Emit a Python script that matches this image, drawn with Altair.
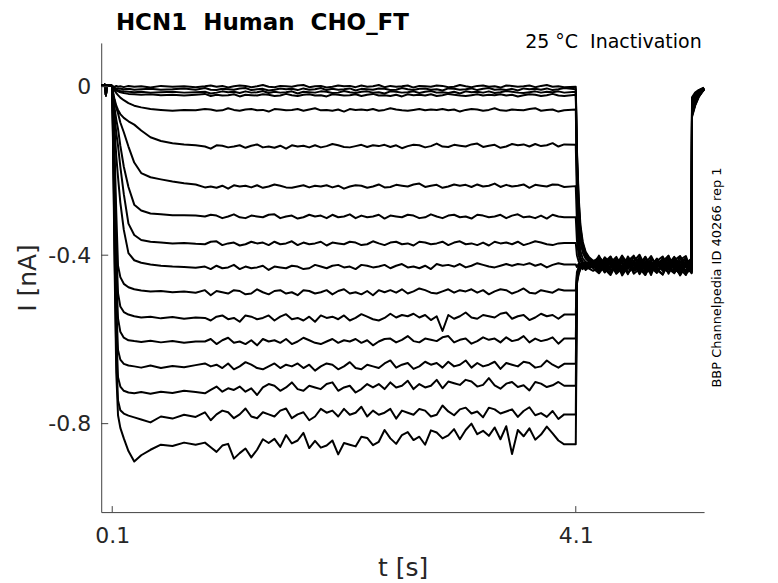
import altair as alt
import pandas as pd

# ---------------- axis ticks / labels ----------------
x_ticks = [0.1, 4.1]
y_ticks = [-0.8, -0.4, 0.0]

# ---------------- time grids (s) ----------------
pre_t = [0.005, 0.020, 0.035, 0.043, 0.046, 0.050, 0.070, 0.090]
pre_I = [0.004, 0.003, 0.005, 0.003, -0.020, 0.004, 0.003, 0.004]

early_t = [0.100, 0.110, 0.120, 0.135, 0.150, 0.170, 0.200, 0.240, 0.290, 0.350,
           0.430, 0.520, 0.620, 0.720, 0.820]

steady_t = [0.90, 0.95, 1.00, 1.05, 1.10, 1.15, 1.20, 1.25, 1.30, 1.35,
            1.40, 1.45, 1.50, 1.55, 1.60, 1.65, 1.70, 1.75, 1.80, 1.85,
            1.90, 1.95, 2.00, 2.05, 2.10, 2.15, 2.20, 2.25, 2.30, 2.35,
            2.40, 2.45, 2.50, 2.55, 2.60, 2.65, 2.70, 2.75, 2.80, 2.85,
            2.90, 2.95, 3.00, 3.05, 3.10, 3.15, 3.20, 3.25, 3.30, 3.35,
            3.40, 3.45, 3.50, 3.55, 3.60, 3.65, 3.70, 3.75, 3.80, 3.85,
            3.90, 3.95, 4.00]

tail_t = [4.100, 4.110, 4.125, 4.140, 4.160, 4.185, 4.215, 4.250,
          4.300, 4.350, 4.400, 4.450, 4.500, 4.550, 4.600, 4.650, 4.700,
          4.750, 4.800, 4.850, 4.900, 4.950, 5.000, 5.050, 5.100]

post_t = [5.103, 5.130, 5.160, 5.190, 5.207]

# ---------------- currents (nA) ----------------
early_T01 = [0.000, 0.001, -0.001, 0.002, 0.000, 0.001, -0.001, 0.002, 0.000, 0.001, -0.002, 0.002, 0.000, 0.001, -0.001]
early_T02 = [0.000, -0.002, -0.003, -0.004, -0.005, -0.005, -0.006, -0.005, -0.007, -0.006, -0.005, -0.007, -0.006, -0.004, -0.007]
early_T03 = [0.000, -0.003, -0.005, -0.007, -0.009, -0.010, -0.011, -0.012, -0.013, -0.012, -0.014, -0.013, -0.012, -0.014, -0.013]
early_T04 = [0.000, -0.003, -0.006, -0.009, -0.011, -0.013, -0.015, -0.017, -0.018, -0.019, -0.018, -0.020, -0.019, -0.021, -0.019]
early_T05 = [0.000, -0.005, -0.009, -0.015, -0.020, -0.026, -0.032, -0.039, -0.045, -0.049, -0.053, -0.055, -0.057, -0.055, -0.056]
early_T06 = [0.000, -0.018, -0.030, -0.045, -0.055, -0.065, -0.074, -0.082, -0.090, -0.104, -0.120, -0.129, -0.134, -0.137, -0.139]
early_T07 = [0.000, -0.020, -0.035, -0.050, -0.063, -0.085, -0.108, -0.142, -0.180, -0.205, -0.215, -0.220, -0.225, -0.229, -0.232]
early_T08 = [0.000, -0.030, -0.050, -0.078, -0.100, -0.140, -0.190, -0.238, -0.280, -0.294, -0.301, -0.303, -0.305, -0.305, -0.306]
early_T09 = [0.000, -0.040, -0.070, -0.110, -0.140, -0.190, -0.255, -0.325, -0.352, -0.364, -0.368, -0.370, -0.372, -0.371, -0.373]
early_T10 = [0.000, -0.055, -0.100, -0.165, -0.215, -0.275, -0.340, -0.395, -0.412, -0.418, -0.422, -0.425, -0.427, -0.428, -0.430]
early_T11 = [0.000, -0.080, -0.150, -0.300, -0.425, -0.452, -0.468, -0.476, -0.481, -0.484, -0.486, -0.485, -0.488, -0.486, -0.489]
early_T12 = [0.000, -0.100, -0.200, -0.380, -0.490, -0.522, -0.535, -0.541, -0.545, -0.548, -0.546, -0.550, -0.547, -0.551, -0.548]
early_T13 = [0.000, -0.120, -0.250, -0.450, -0.550, -0.582, -0.596, -0.602, -0.604, -0.606, -0.603, -0.607, -0.604, -0.608, -0.605]
early_T14 = [0.000, -0.140, -0.300, -0.520, -0.625, -0.648, -0.658, -0.662, -0.664, -0.667, -0.662, -0.668, -0.663, -0.666, -0.661]
early_T15 = [0.000, -0.160, -0.340, -0.580, -0.690, -0.712, -0.722, -0.726, -0.728, -0.725, -0.729, -0.724, -0.727, -0.722, -0.725]
early_T16 = [0.000, -0.180, -0.380, -0.640, -0.745, -0.768, -0.776, -0.781, -0.785, -0.790, -0.797, -0.783, -0.788, -0.779, -0.784]
early_T17 = [0.000, -0.200, -0.420, -0.680, -0.780, -0.810, -0.835, -0.865, -0.890, -0.875, -0.862, -0.850, -0.853, -0.845, -0.850]

steady_T01 = [0.001, 0.003, 0.000, 0.002, -0.002, 0.001, 0.003, 0.002, -0.001, 0.001,
              0.004, 0.000, -0.001, 0.002, 0.001, 0.000, 0.003, 0.004, -0.001, 0.001,
              0.002, -0.002, 0.000, 0.003, 0.001, 0.002, -0.001, 0.003, 0.000, 0.001,
              0.004, -0.001, 0.002, 0.000, 0.001, 0.003, -0.002, 0.002, 0.001, 0.000,
              0.003, 0.002, -0.001, 0.000, 0.004, 0.001, -0.001, 0.002, 0.003, 0.000,
              0.001, -0.002, 0.003, 0.002, 0.000, 0.001, 0.003, -0.001, 0.002, 0.004,
              0.000, 0.001, -0.001]
steady_T02 = [-0.003, -0.007, -0.008, -0.005, -0.006, -0.007, -0.004, -0.003, -0.008, -0.006,
              -0.005, -0.009, -0.007, -0.004, -0.006, -0.005, -0.008, -0.004, -0.007, -0.006,
              -0.003, -0.008, -0.005, -0.007, -0.006, -0.004, -0.009, -0.005, -0.006, -0.007,
              -0.004, -0.005, -0.008, -0.007, -0.003, -0.006, -0.008, -0.005, -0.004, -0.007,
              -0.006, -0.009, -0.004, -0.005, -0.007, -0.006, -0.004, -0.008, -0.005, -0.003,
              -0.007, -0.006, -0.008, -0.005, -0.009, -0.004, -0.006, -0.005, -0.007, -0.004,
              -0.008, -0.006, -0.003]
steady_T03 = [-0.012, -0.016, -0.014, -0.011, -0.013, -0.012, -0.015, -0.011, -0.014, -0.013,
              -0.010, -0.015, -0.012, -0.014, -0.013, -0.011, -0.016, -0.012, -0.013, -0.014,
              -0.011, -0.012, -0.015, -0.014, -0.010, -0.013, -0.015, -0.012, -0.011, -0.014,
              -0.013, -0.016, -0.011, -0.012, -0.014, -0.013, -0.011, -0.015, -0.012, -0.010,
              -0.014, -0.013, -0.015, -0.012, -0.016, -0.011, -0.013, -0.012, -0.014, -0.011,
              -0.015, -0.013, -0.010, -0.012, -0.014, -0.015, -0.013, -0.011, -0.014, -0.012,
              -0.013, -0.011, -0.014]
steady_T04 = [-0.017, -0.022, -0.019, -0.021, -0.020, -0.018, -0.023, -0.019, -0.020, -0.021,
              -0.018, -0.019, -0.022, -0.021, -0.017, -0.020, -0.022, -0.019, -0.018, -0.021,
              -0.020, -0.023, -0.018, -0.019, -0.021, -0.020, -0.018, -0.022, -0.019, -0.017,
              -0.021, -0.020, -0.022, -0.019, -0.023, -0.018, -0.020, -0.019, -0.021, -0.018,
              -0.022, -0.020, -0.017, -0.019, -0.021, -0.022, -0.020, -0.018, -0.021, -0.019,
              -0.020, -0.018, -0.021, -0.019, -0.023, -0.020, -0.018, -0.019, -0.022, -0.020,
              -0.017, -0.021, -0.022]
steady_T05 = [-0.053, -0.054, -0.057, -0.056, -0.051, -0.055, -0.057, -0.054, -0.053, -0.056,
              -0.055, -0.059, -0.053, -0.054, -0.056, -0.055, -0.053, -0.057, -0.054, -0.051,
              -0.056, -0.055, -0.057, -0.054, -0.059, -0.053, -0.055, -0.054, -0.056, -0.053,
              -0.057, -0.055, -0.051, -0.054, -0.056, -0.057, -0.055, -0.053, -0.056, -0.054,
              -0.055, -0.053, -0.056, -0.054, -0.059, -0.055, -0.053, -0.054, -0.057, -0.055,
              -0.051, -0.056, -0.057, -0.054, -0.055, -0.056, -0.053, -0.051, -0.057, -0.055,
              -0.054, -0.059, -0.056]
steady_T06 = [-0.142, -0.147, -0.139, -0.140, -0.144, -0.142, -0.139, -0.145, -0.140, -0.137,
              -0.144, -0.142, -0.145, -0.140, -0.147, -0.139, -0.142, -0.140, -0.144, -0.139,
              -0.144, -0.141, -0.136, -0.139, -0.143, -0.144, -0.141, -0.138, -0.143, -0.139,
              -0.141, -0.138, -0.143, -0.139, -0.146, -0.141, -0.138, -0.139, -0.144, -0.141,
              -0.135, -0.142, -0.143, -0.138, -0.140, -0.142, -0.137, -0.135, -0.143, -0.140,
              -0.138, -0.145, -0.142, -0.136, -0.139, -0.137, -0.142, -0.136, -0.141, -0.139,
              -0.134, -0.142, -0.137]
steady_T07 = [-0.239, -0.237, -0.240, -0.235, -0.242, -0.234, -0.237, -0.235, -0.239, -0.234,
              -0.240, -0.237, -0.232, -0.235, -0.239, -0.240, -0.237, -0.234, -0.239, -0.235,
              -0.237, -0.234, -0.239, -0.235, -0.242, -0.237, -0.234, -0.235, -0.240, -0.237,
              -0.232, -0.239, -0.238, -0.233, -0.235, -0.237, -0.232, -0.230, -0.238, -0.235,
              -0.233, -0.240, -0.237, -0.232, -0.235, -0.233, -0.238, -0.232, -0.237, -0.235,
              -0.230, -0.238, -0.233, -0.237, -0.235, -0.232, -0.240, -0.233, -0.235, -0.237,
              -0.232, -0.233, -0.238]
steady_T08 = [-0.308, -0.304, -0.306, -0.312, -0.308, -0.303, -0.310, -0.312, -0.306, -0.308,
              -0.310, -0.304, -0.303, -0.312, -0.308, -0.306, -0.313, -0.310, -0.304, -0.308,
              -0.306, -0.312, -0.304, -0.310, -0.308, -0.303, -0.312, -0.306, -0.310, -0.308,
              -0.304, -0.313, -0.306, -0.308, -0.310, -0.304, -0.306, -0.312, -0.310, -0.303,
              -0.308, -0.312, -0.306, -0.304, -0.310, -0.308, -0.313, -0.304, -0.306, -0.310,
              -0.308, -0.304, -0.312, -0.306, -0.303, -0.310, -0.308, -0.312, -0.306, -0.313,
              -0.304, -0.308, -0.310]
steady_T09 = [-0.374, -0.368, -0.367, -0.376, -0.372, -0.370, -0.377, -0.374, -0.368, -0.372,
              -0.370, -0.376, -0.368, -0.374, -0.372, -0.367, -0.376, -0.370, -0.374, -0.372,
              -0.368, -0.377, -0.370, -0.372, -0.374, -0.368, -0.370, -0.376, -0.374, -0.367,
              -0.372, -0.376, -0.370, -0.368, -0.374, -0.372, -0.377, -0.368, -0.370, -0.374,
              -0.372, -0.368, -0.376, -0.370, -0.367, -0.374, -0.372, -0.376, -0.370, -0.377,
              -0.368, -0.372, -0.370, -0.374, -0.368, -0.376, -0.372, -0.367, -0.370, -0.374,
              -0.376, -0.372, -0.371]
steady_T10 = [-0.427, -0.433, -0.425, -0.431, -0.429, -0.423, -0.433, -0.427, -0.431, -0.429,
              -0.425, -0.435, -0.427, -0.429, -0.431, -0.425, -0.427, -0.433, -0.431, -0.423,
              -0.427, -0.431, -0.425, -0.423, -0.429, -0.427, -0.433, -0.423, -0.425, -0.429,
              -0.427, -0.423, -0.431, -0.425, -0.421, -0.429, -0.427, -0.431, -0.425, -0.433,
              -0.421, -0.425, -0.423, -0.427, -0.421, -0.429, -0.425, -0.419, -0.423, -0.427,
              -0.429, -0.425, -0.421, -0.425, -0.421, -0.423, -0.419, -0.425, -0.421, -0.429,
              -0.423, -0.419, -0.422]
steady_T11 = [-0.483, -0.495, -0.485, -0.488, -0.491, -0.483, -0.485, -0.493, -0.491, -0.481,
              -0.488, -0.493, -0.485, -0.483, -0.491, -0.488, -0.495, -0.483, -0.485, -0.491,
              -0.488, -0.483, -0.493, -0.485, -0.481, -0.491, -0.488, -0.493, -0.485, -0.495,
              -0.483, -0.488, -0.483, -0.489, -0.481, -0.491, -0.486, -0.479, -0.483, -0.489,
              -0.491, -0.486, -0.481, -0.489, -0.483, -0.486, -0.481, -0.489, -0.483, -0.493,
              -0.486, -0.481, -0.483, -0.491, -0.486, -0.479, -0.489, -0.491, -0.483, -0.486,
              -0.489, -0.481, -0.484]
steady_T12 = [-0.549, -0.555, -0.546, -0.543, -0.552, -0.549, -0.558, -0.543, -0.546, -0.552,
              -0.549, -0.543, -0.555, -0.546, -0.540, -0.552, -0.549, -0.555, -0.546, -0.558,
              -0.543, -0.549, -0.546, -0.552, -0.543, -0.555, -0.549, -0.540, -0.546, -0.552,
              -0.555, -0.549, -0.539, -0.548, -0.542, -0.545, -0.539, -0.548, -0.542, -0.554,
              -0.545, -0.580, -0.542, -0.551, -0.545, -0.536, -0.548, -0.551, -0.542, -0.545,
              -0.548, -0.539, -0.536, -0.551, -0.545, -0.542, -0.554, -0.548, -0.539, -0.545,
              -0.542, -0.551, -0.541]
steady_T13 = [-0.605, -0.599, -0.611, -0.602, -0.596, -0.608, -0.605, -0.611, -0.602, -0.614,
              -0.599, -0.605, -0.602, -0.608, -0.599, -0.611, -0.605, -0.596, -0.602, -0.608,
              -0.611, -0.605, -0.599, -0.608, -0.602, -0.605, -0.599, -0.608, -0.602, -0.614,
              -0.605, -0.599, -0.598, -0.607, -0.601, -0.592, -0.604, -0.607, -0.598, -0.601,
              -0.604, -0.595, -0.592, -0.607, -0.601, -0.598, -0.610, -0.604, -0.595, -0.601,
              -0.598, -0.607, -0.595, -0.604, -0.601, -0.592, -0.607, -0.598, -0.604, -0.601,
              -0.595, -0.610, -0.598]
steady_T14 = [-0.657, -0.664, -0.660, -0.668, -0.657, -0.671, -0.664, -0.654, -0.660, -0.668,
              -0.671, -0.664, -0.657, -0.668, -0.660, -0.664, -0.657, -0.668, -0.660, -0.674,
              -0.664, -0.657, -0.660, -0.671, -0.664, -0.654, -0.668, -0.671, -0.660, -0.664,
              -0.668, -0.657, -0.650, -0.667, -0.660, -0.656, -0.670, -0.664, -0.653, -0.660,
              -0.656, -0.667, -0.653, -0.664, -0.660, -0.650, -0.667, -0.656, -0.664, -0.660,
              -0.653, -0.670, -0.656, -0.660, -0.664, -0.653, -0.656, -0.667, -0.664, -0.650,
              -0.660, -0.667, -0.658]
steady_T15 = [-0.728, -0.720, -0.712, -0.724, -0.716, -0.720, -0.712, -0.724, -0.716, -0.732,
              -0.714, -0.706, -0.710, -0.722, -0.714, -0.702, -0.718, -0.722, -0.710, -0.714,
              -0.718, -0.706, -0.702, -0.722, -0.714, -0.710, -0.726, -0.718, -0.706, -0.714,
              -0.706, -0.718, -0.702, -0.714, -0.710, -0.698, -0.718, -0.706, -0.714, -0.710,
              -0.696, -0.716, -0.700, -0.704, -0.708, -0.696, -0.700, -0.712, -0.708, -0.692,
              -0.709, -0.717, -0.705, -0.701, -0.713, -0.709, -0.721, -0.701, -0.705, -0.713,
              -0.709, -0.701, -0.710]
steady_T16 = [-0.773, -0.792, -0.778, -0.769, -0.773, -0.787, -0.778, -0.764, -0.783, -0.787,
              -0.773, -0.778, -0.783, -0.769, -0.764, -0.787, -0.778, -0.773, -0.792, -0.783,
              -0.765, -0.774, -0.769, -0.783, -0.765, -0.779, -0.774, -0.760, -0.783, -0.769,
              -0.779, -0.774, -0.765, -0.788, -0.769, -0.774, -0.779, -0.765, -0.769, -0.783,
              -0.779, -0.757, -0.771, -0.780, -0.766, -0.762, -0.776, -0.771, -0.785, -0.762,
              -0.766, -0.776, -0.771, -0.766, -0.784, -0.770, -0.761, -0.780, -0.775, -0.784,
              -0.770, -0.789, -0.778]
steady_T17 = [-0.845, -0.856, -0.867, -0.852, -0.848, -0.883, -0.870, -0.859, -0.880, -0.862,
              -0.837, -0.846, -0.836, -0.855, -0.827, -0.847, -0.840, -0.822, -0.858, -0.841,
              -0.857, -0.852, -0.840, -0.873, -0.846, -0.850, -0.854, -0.831, -0.834, -0.851,
              -0.843, -0.815, -0.835, -0.848, -0.827, -0.820, -0.839, -0.831, -0.850, -0.816,
              -0.821, -0.835, -0.828, -0.813, -0.837, -0.815, -0.800, -0.825, -0.817, -0.829,
              -0.809, -0.837, -0.806, -0.872, -0.815, -0.830, -0.811, -0.838, -0.826, -0.807,
              -0.823, -0.840, -0.849]

# tail step: relaxation (4.10-4.25 s) then noisy plateau (4.30-5.10 s)
tail_T01 = [0.000, -0.150, -0.262, -0.328, -0.368, -0.392, -0.405, -0.413,
            -0.410, -0.425, -0.418, -0.404, -0.431, -0.420, -0.412, -0.437, -0.416, -0.427, -0.409, -0.433, -0.421, -0.414, -0.429, -0.419, -0.418]
tail_T02 = [-0.006, -0.160, -0.272, -0.336, -0.373, -0.395, -0.407, -0.415,
            -0.431, -0.414, -0.422, -0.437, -0.409, -0.426, -0.435, -0.413, -0.420, -0.402, -0.428, -0.417, -0.434, -0.411, -0.423, -0.436, -0.427]
tail_T03 = [-0.012, -0.175, -0.285, -0.345, -0.379, -0.399, -0.410, -0.417,
            -0.405, -0.433, -0.427, -0.415, -0.440, -0.412, -0.424, -0.406, -0.431, -0.419, -0.441, -0.425, -0.410, -0.432, -0.418, -0.407, -0.430]
tail_T04 = [-0.019, -0.185, -0.295, -0.352, -0.384, -0.402, -0.412, -0.419,
            -0.436, -0.420, -0.408, -0.429, -0.417, -0.443, -0.423, -0.411, -0.426, -0.438, -0.414, -0.403, -0.430, -0.421, -0.439, -0.416, -0.412]
tail_T05 = [-0.054, -0.210, -0.315, -0.367, -0.394, -0.408, -0.416, -0.420,
            -0.418, -0.441, -0.413, -0.424, -0.401, -0.433, -0.419, -0.442, -0.415, -0.427, -0.408, -0.437, -0.424, -0.404, -0.428, -0.440, -0.436]
tail_T06 = [-0.138, -0.265, -0.350, -0.390, -0.408, -0.416, -0.421, -0.418,
            -0.427, -0.409, -0.438, -0.420, -0.432, -0.414, -0.403, -0.428, -0.440, -0.418, -0.431, -0.446, -0.413, -0.426, -0.435, -0.419, -0.408]
tail_T07 = [-0.236, -0.320, -0.380, -0.405, -0.416, -0.421, -0.418, -0.426,
            -0.401, -0.428, -0.416, -0.443, -0.425, -0.410, -0.436, -0.421, -0.404, -0.433, -0.417, -0.429, -0.441, -0.412, -0.402, -0.427, -0.423]
tail_T08 = [-0.310, -0.365, -0.400, -0.414, -0.420, -0.417, -0.425, -0.421,
            -0.439, -0.418, -0.430, -0.407, -0.421, -0.445, -0.415, -0.399, -0.428, -0.435, -0.420, -0.411, -0.432, -0.443, -0.416, -0.425, -0.443]
tail_T09 = [-0.371, -0.400, -0.415, -0.421, -0.418, -0.426, -0.420, -0.427,
            -0.414, -0.436, -0.404, -0.426, -0.444, -0.419, -0.431, -0.412, -0.438, -0.407, -0.423, -0.434, -0.405, -0.429, -0.446, -0.413, -0.431]
tail_T10 = [-0.422, -0.428, -0.420, -0.429, -0.423, -0.418, -0.427, -0.421,
            -0.433, -0.411, -0.425, -0.440, -0.406, -0.428, -0.416, -0.445, -0.422, -0.413, -0.439, -0.427, -0.418, -0.406, -0.432, -0.447, -0.415]
tail_T11 = [-0.484, -0.440, -0.428, -0.421, -0.430, -0.424, -0.419, -0.428,
            -0.408, -0.430, -0.442, -0.417, -0.436, -0.403, -0.424, -0.431, -0.447, -0.420, -0.412, -0.437, -0.426, -0.405, -0.421, -0.428, -0.440]
tail_T12 = [-0.541, -0.447, -0.432, -0.425, -0.419, -0.428, -0.422, -0.431,
            -0.443, -0.425, -0.412, -0.434, -0.402, -0.419, -0.438, -0.428, -0.409, -0.430, -0.442, -0.415, -0.401, -0.433, -0.442, -0.416, -0.425]
tail_T13 = [-0.598, -0.452, -0.435, -0.423, -0.431, -0.420, -0.429, -0.424,
            -0.421, -0.440, -0.429, -0.410, -0.448, -0.426, -0.405, -0.417, -0.434, -0.441, -0.424, -0.409, -0.444, -0.418, -0.429, -0.437, -0.407]
tail_T14 = [-0.658, -0.456, -0.437, -0.428, -0.420, -0.432, -0.425, -0.418,
            -0.404, -0.419, -0.435, -0.428, -0.414, -0.441, -0.430, -0.406, -0.423, -0.416, -0.436, -0.427, -0.402, -0.438, -0.411, -0.402, -0.441]
tail_T15 = [-0.710, -0.460, -0.440, -0.426, -0.433, -0.422, -0.431, -0.426,
            -0.437, -0.416, -0.403, -0.439, -0.425, -0.412, -0.444, -0.433, -0.419, -0.447, -0.410, -0.422, -0.433, -0.414, -0.448, -0.425, -0.411]
tail_T16 = [-0.778, -0.463, -0.442, -0.430, -0.424, -0.435, -0.428, -0.421,
            -0.416, -0.433, -0.447, -0.421, -0.408, -0.429, -0.418, -0.440, -0.404, -0.426, -0.435, -0.446, -0.419, -0.429, -0.403, -0.444, -0.429]
tail_T17 = [-0.849, -0.468, -0.445, -0.433, -0.427, -0.421, -0.432, -0.437,
            -0.429, -0.405, -0.420, -0.444, -0.431, -0.415, -0.401, -0.427, -0.446, -0.419, -0.433, -0.407, -0.424, -0.441, -0.426, -0.409, -0.438]

post_T01 = [-0.025, -0.014, -0.008, -0.004, -0.002]
post_T02 = [-0.028, -0.016, -0.009, -0.005, -0.003]
post_T03 = [-0.031, -0.018, -0.010, -0.005, -0.003]
post_T04 = [-0.034, -0.020, -0.011, -0.006, -0.003]
post_T05 = [-0.037, -0.022, -0.012, -0.006, -0.004]
post_T06 = [-0.040, -0.024, -0.013, -0.007, -0.004]
post_T07 = [-0.043, -0.026, -0.014, -0.007, -0.004]
post_T08 = [-0.046, -0.028, -0.016, -0.008, -0.004]
post_T09 = [-0.049, -0.030, -0.017, -0.009, -0.005]
post_T10 = [-0.052, -0.032, -0.018, -0.009, -0.005]
post_T11 = [-0.055, -0.034, -0.019, -0.010, -0.005]
post_T12 = [-0.058, -0.036, -0.020, -0.010, -0.006]
post_T13 = [-0.061, -0.038, -0.021, -0.011, -0.006]
post_T14 = [-0.064, -0.040, -0.022, -0.011, -0.006]
post_T15 = [-0.067, -0.042, -0.023, -0.012, -0.006]
post_T16 = [-0.069, -0.043, -0.024, -0.012, -0.007]
post_T17 = [-0.072, -0.045, -0.025, -0.013, -0.007]

traces = [
    ("T01", early_T01, steady_T01, tail_T01, post_T01), ("T02", early_T02, steady_T02, tail_T02, post_T02),
    ("T03", early_T03, steady_T03, tail_T03, post_T03), ("T04", early_T04, steady_T04, tail_T04, post_T04),
    ("T05", early_T05, steady_T05, tail_T05, post_T05), ("T06", early_T06, steady_T06, tail_T06, post_T06),
    ("T07", early_T07, steady_T07, tail_T07, post_T07), ("T08", early_T08, steady_T08, tail_T08, post_T08),
    ("T09", early_T09, steady_T09, tail_T09, post_T09), ("T10", early_T10, steady_T10, tail_T10, post_T10),
    ("T11", early_T11, steady_T11, tail_T11, post_T11), ("T12", early_T12, steady_T12, tail_T12, post_T12),
    ("T13", early_T13, steady_T13, tail_T13, post_T13), ("T14", early_T14, steady_T14, tail_T14, post_T14),
    ("T15", early_T15, steady_T15, tail_T15, post_T15), ("T16", early_T16, steady_T16, tail_T16, post_T16),
    ("T17", early_T17, steady_T17, tail_T17, post_T17),
]

rows = []
for name, early, steady, tail, post in traces:
    assert len(early) == len(early_t), name
    assert len(steady) == len(steady_t), name
    assert len(tail) == len(tail_t), name
    assert len(post) == len(post_t), name
    ts = pre_t + early_t + steady_t + tail_t + post_t
    vs = pre_I + early + steady + tail + post
    for k, (t, v) in enumerate(zip(ts, vs)):
        rows.append({"trace": name, "k": k, "t": t, "I": v})
df = pd.DataFrame(rows)

FONT = "DejaVu Sans"
TXT = "#262626"
AX = "#404040"
W, H = 603.4, 469.6

x_enc = alt.X(
    "t:Q",
    scale=alt.Scale(domain=[0.005, 5.207], nice=False, zero=False),
    axis=alt.Axis(
        values=x_ticks, labelExpr="format(datum.value, '.1f')",
        ticks=False, grid=False, labelFlush=False,
        labelPadding=30, labelBaseline="alphabetic",
        labelFont=FONT, labelFontSize=22, labelColor=TXT,
        domainColor=AX, domainWidth=1,
        title="t [s]", titleFont=FONT, titleFontSize=25, titleFontWeight="normal",
        titleColor=TXT, titleX=W / 2, titleY=63.7, titleAlign="center",
        titleBaseline="alphabetic",
    ),
)
y_enc = alt.Y(
    "I:Q",
    scale=alt.Scale(domain=[-1.01, 0.104], nice=False, zero=False),
    axis=alt.Axis(
        values=y_ticks,
        labelExpr="datum.value == 0 ? '0' : (datum.value < 0 ? '-' : '') + format(abs(datum.value), '.1f')",
        ticks=False, grid=False, labelFlush=False,
        labelPadding=10.6, labelBaseline="middle",
        labelFont=FONT, labelFontSize=22, labelColor=TXT,
        domainColor=AX, domainWidth=1,
        title="I [nA]", titleFont=FONT, titleFontSize=25, titleFontWeight="normal",
        titleColor=TXT, titleX=-65.3, titleY=H / 2, titleAngle=270, titleAlign="center",
        titleBaseline="alphabetic",
    ),
)

lines = alt.Chart(df).mark_line(color="black", strokeWidth=2.0, strokeJoin="round").encode(
    x=x_enc, y=y_enc, detail="trace:N", order="k:Q"
)

xt = alt.Chart(pd.DataFrame({"t": x_ticks})).mark_rule(color=AX, strokeWidth=1).encode(
    x="t:Q", y=alt.value(H), y2=alt.value(H - 6)
)
yt = alt.Chart(pd.DataFrame({"I": y_ticks})).mark_rule(color=AX, strokeWidth=1).encode(
    y="I:Q", x=alt.value(0), x2=alt.value(7)
)

title_txt = alt.Chart(pd.DataFrame({"s": ["HCN1\u00a0 Human\u00a0 CHO_FT"]})).mark_text(
    font=FONT, fontSize=23, fontWeight="bold", color="black", align="left", baseline="alphabetic"
).encode(text="s:N", x=alt.value(14.7), y=alt.value(-13.3))

cond_txt = alt.Chart(pd.DataFrame({"s": ["25 °C\u00a0 Inactivation"]})).mark_text(
    font=FONT, fontSize=19, color="black", align="right", baseline="alphabetic"
).encode(text="s:N", x=alt.value(601), y=alt.value(5))

id_txt = alt.Chart(pd.DataFrame({"s": ["BBP Channelpedia ID 40266 rep 1"]})).mark_text(
    font=FONT, fontSize=13, color="black", align="center", baseline="middle", angle=270
).encode(text="s:N", x=alt.value(616.2), y=alt.value(234.8))

chart = alt.layer(lines, xt, yt, title_txt, cond_txt, id_txt).properties(
    width=W, height=H,
    autosize=alt.AutoSizeParams(type="none"),
    padding={"left": 93.3, "top": 34.7, "right": 66, "bottom": 70},
    background="white",
).configure_view(stroke=None)

chart.save("out.html", embed_options={"renderer": "svg", "actions": False})
